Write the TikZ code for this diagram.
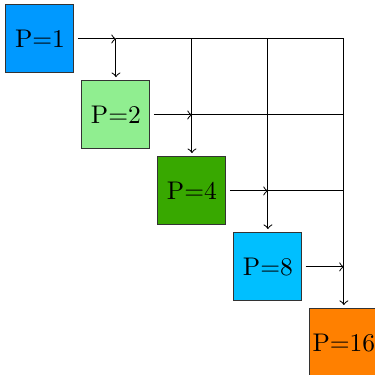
\documentclass[tikz,border=0pt]{standalone}
\usetikzlibrary{positioning}
\definecolor{procOne}{HTML}{0099FF}
\definecolor{procTwo}{HTML}{90EE90}
\definecolor{procFour}{HTML}{38A800}
\definecolor{procEight}{HTML}{00BFFF}
\definecolor{procSixteen}{HTML}{FF8000}
\tikzset{
  proc/.style={
    draw=black!80, fill=#1, minimum size=0.937cm, inner sep=1pt, outer sep=1.5pt},
  proc/.default=white,
  wire/.style={draw=black, line width=0.4pt},
  send/.style={draw=black, line width=0.4pt, ->},
}

\begin{document}
\begin{tikzpicture}
\useasboundingbox (0,0) rectangle (5.155,-5.168);

% ---- the processes, one per level
\node[proc=procOne]     (P1)  at (0.551,-0.537) {P=1};
\node[proc=procTwo]     (P2)  at (1.598,-1.584) {P=2};
\node[proc=procFour]    (P4)  at (2.645,-2.631) {P=4};
\node[proc=procEight]   (P8)  at (3.692,-3.678) {P=8};
\node[proc=procSixteen] (P16) at (4.739,-4.725) {P=16};

% ---- messages sent along each row
\draw[send] (P1.east) -- (P1 -| P2);
\draw[wire] (P1 -| P2) -- (P1 -| P16);
\draw[send] (P2.east) -- (P2 -| P4);
\draw[wire] (P2 -| P4) -- (P2 -| P16);
\draw[send] (P4.east) -- (P4 -| P8);
\draw[wire] (P4 -| P8) -- (P4 -| P16);
\draw[send] (P8.east) -- (P8 -| P16);

% ---- and down to each receiver
\foreach \p in {P2,P4,P8,P16}
  \draw[send] (P1 -| \p) -- (\p.north);

\end{tikzpicture}
\end{document}
